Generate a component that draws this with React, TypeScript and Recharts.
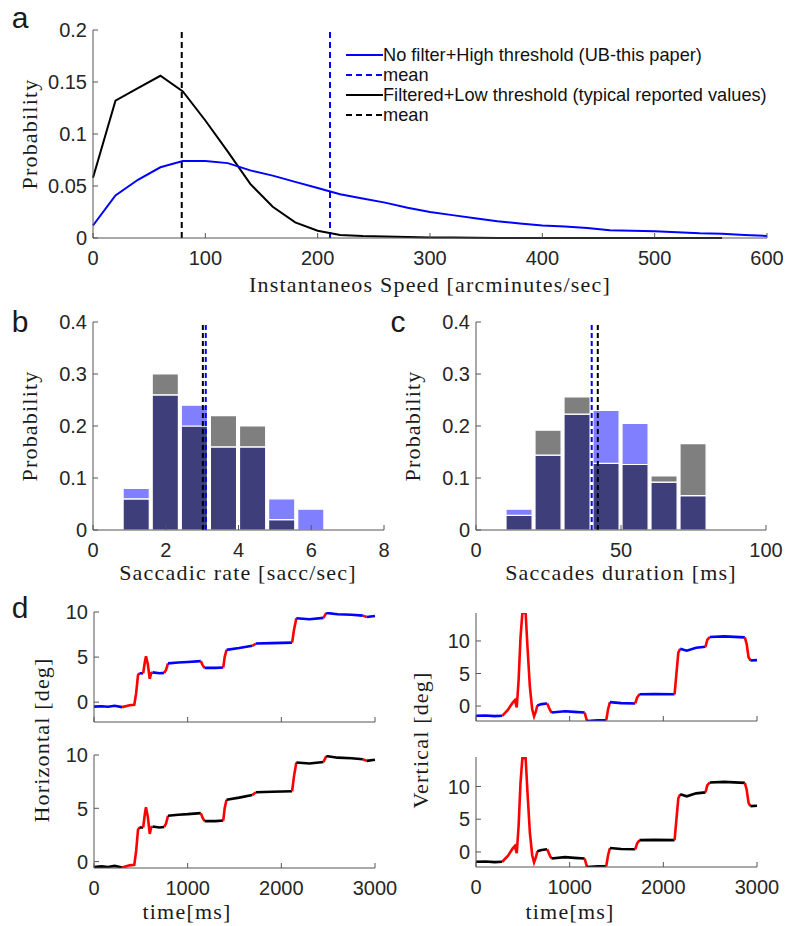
import React from 'react'
import { LineChart, Line, XAxis, YAxis, ReferenceLine, BarChart, Bar } from 'recharts'

// ---- panel a: instantaneous speed distributions
const SPEED_X = [0, 20, 40, 60, 80, 100, 120, 140, 160, 180, 200, 220, 240, 260, 280, 300, 320, 340, 360, 380, 400, 420, 440, 460, 480, 500, 520, 540, 560, 580, 600]
const SPEED_UB = [0.012, 0.041, 0.056, 0.068, 0.074, 0.074, 0.072, 0.065, 0.06, 0.054, 0.048, 0.042, 0.038, 0.034, 0.029, 0.025, 0.022, 0.019, 0.016, 0.014, 0.012, 0.011, 0.0095, 0.0075, 0.007, 0.0065, 0.0055, 0.0045, 0.004, 0.003, 0.002]
const SPEED_FILT = [0.058, 0.132, 0.144, 0.156, 0.141, 0.113, 0.083, 0.052, 0.03, 0.015, 0.007, 0.003, 0.002, 0.0015, 0.001, 0.0006, 0.0004, 0.0002, 0.0001, 0, 0, 0, 0, 0, 0, 0, 0, 0, 0, null, null]
const SPEED_MEAN_UB = 211
const SPEED_MEAN_FILT = 79
const SPEED_XTICKS = [0, 100, 200, 300, 400, 500, 600]
const PROB_TICKS_A = [0, 0.05, 0.1, 0.15, 0.2]

// ---- panel b: saccadic rate histogram (bins of 0.8 from 0 to 8)
const RATE_CENTERS = [0.4, 1.2, 2.0, 2.8, 3.6, 4.4, 5.2, 6.0, 6.8, 7.6]
const RATE_UB = [0, 0.08, 0.26, 0.24, 0.16, 0.16, 0.06, 0.04, 0, 0]
const RATE_FILT = [0, 0.06, 0.3, 0.2, 0.22, 0.2, 0.02, 0, 0, 0]
const RATE_MEAN_UB = 3.1
const RATE_MEAN_FILT = 3.02
const RATE_TICKS = [0, 2, 4, 6, 8]

// ---- panel c: saccade duration histogram (bins of 10 ms from 0 to 100)
const DUR_CENTERS = [5, 15, 25, 35, 45, 55, 65, 75, 85, 95]
const DUR_UB = [0, 0.04, 0.144, 0.223, 0.23, 0.205, 0.092, 0.066, 0, 0]
const DUR_FILT = [0, 0.028, 0.192, 0.256, 0.128, 0.126, 0.104, 0.166, 0, 0]
const DUR_MEAN_UB = 39.9
const DUR_MEAN_FILT = 42
const DUR_TICKS = [0, 50, 100]
const PROB_TICKS_BC = [0, 0.1, 0.2, 0.3, 0.4]

// ---- panel d: eye traces (1 = segment to next point is a saccade)
const H_T = [0, 80, 150, 220, 300, 380, 430, 450, 470, 485, 525, 545, 555, 575, 595, 610, 625, 700, 750, 770, 790, 900, 1000, 1140, 1160, 1180, 1300, 1380, 1395, 1415, 1550, 1690, 1730, 1900, 2115, 2135, 2160, 2300, 2450, 2480, 2600, 2750, 2870, 2910, 3000]
const H_V = [-0.5, -0.45, -0.5, -0.4, -0.55, -0.35, -0.3, 1.0, 3.0, 3.2, 3.2, 4.6, 5.1, 4.2, 2.6, 3.2, 3.3, 3.2, 3.25, 3.6, 4.3, 4.4, 4.45, 4.55, 4.1, 3.8, 3.8, 3.85, 5.0, 5.8, 6.0, 6.25, 6.5, 6.55, 6.6, 8.0, 9.3, 9.2, 9.35, 9.9, 9.75, 9.7, 9.6, 9.45, 9.55]
const H_SAC = [0, 0, 0, 0, 1, 1, 1, 1, 1, 0, 1, 1, 1, 1, 1, 1, 0, 0, 1, 1, 0, 0, 0, 1, 1, 0, 0, 1, 1, 0, 0, 1, 0, 0, 1, 1, 0, 0, 1, 0, 0, 0, 1, 0, 0]
const V_T = [0, 100, 200, 280, 340, 390, 415, 435, 455, 475, 495, 530, 550, 575, 600, 620, 640, 655, 700, 760, 790, 805, 950, 1050, 1160, 1185, 1300, 1390, 1410, 1430, 1550, 1700, 1720, 1745, 1900, 2120, 2140, 2160, 2180, 2250, 2350, 2450, 2470, 2495, 2650, 2870, 2890, 2910, 2930, 3000]
const V_V = [-1.5, -1.45, -1.55, -1.5, -0.6, 0.5, 0.9, -0.2, 4.0, 10.5, 14.3, 14.3, 9.0, 3.0, -0.5, -1.6, -0.8, 0.1, 0.3, 0.4, -0.6, -1.0, -0.8, -0.9, -1.0, -2.3, -2.2, -2.2, -0.5, 0.6, 0.45, 0.4, 1.3, 1.8, 1.85, 1.8, 5.0, 8.2, 8.8, 8.5, 8.95, 9.1, 10.2, 10.6, 10.7, 10.55, 9.5, 7.5, 7.0, 7.05]
const V_SAC = [0, 0, 0, 1, 1, 1, 1, 1, 1, 1, 1, 1, 1, 1, 1, 1, 1, 0, 0, 1, 1, 0, 0, 0, 1, 0, 0, 1, 1, 0, 0, 1, 1, 0, 0, 1, 1, 1, 0, 0, 0, 1, 1, 0, 0, 1, 1, 1, 0, 0]
const TIME_TICKS = [0, 1000, 2000, 3000]
const DEG_TICKS = [0, 5, 10]

const AXIS = '#555'
const TICK_TXT = '#262626'
const SANS = '"Liberation Sans", Arial, sans-serif'
const SERIF = '"Liberation Serif", "Times New Roman", serif'
const TM = 6
const TICK_FS = 20

function BottomTick(props: any) {
  const { x, y, payload, showLabel } = props
  const y0 = y - TM
  return (
    <g>
      <line x1={x} x2={x} y1={y0} y2={y0 - 5} stroke={AXIS} />
      {showLabel && (
        <text x={x} y={y0 + 27} textAnchor="middle" fontFamily={SANS} fontSize={TICK_FS} fill={TICK_TXT}>
          {payload.value}
        </text>
      )}
    </g>
  )
}

function LeftTick(props: any) {
  const { x, y, payload } = props
  const x0 = x + TM
  return (
    <g>
      <line x1={x0} x2={x0 + 5} y1={y} y2={y} stroke={AXIS} />
      <text x={x} y={y} dy="0.36em" textAnchor="end" fontFamily={SANS} fontSize={TICK_FS} fill={TICK_TXT}>
        {payload.value}
      </text>
    </g>
  )
}

type Rect = { l: number; t: number; w: number; h: number }
type Plot = { l: number; t: number; r: number; b: number }

function frame(d: Rect, p: Plot) {
  return {
    style: { position: 'absolute' as const, left: d.l, top: d.t },
    width: d.w,
    height: d.h,
    margin: { top: p.t - d.t, right: d.l + d.w - p.r, left: 0, bottom: 0 },
    yW: p.l - d.l,
    xH: d.t + d.h - p.b,
  }
}

function SpeedPanel() {
  const f = frame({ l: 0, t: 0, w: 786, h: 272 }, { l: 93, t: 30, r: 767, b: 238 })
  const rows = SPEED_X.map((x, i) => ({ x, ub: SPEED_UB[i], filt: SPEED_FILT[i] }))
  return (
    <div style={f.style}>
      <LineChart width={f.width} height={f.height} data={rows} margin={f.margin}>
        <XAxis type="number" dataKey="x" domain={[0, 600]} ticks={SPEED_XTICKS} height={f.xH} stroke={AXIS}
          tickSize={0} tickMargin={TM} tick={(p: any) => <BottomTick {...p} showLabel />} />
        <YAxis type="number" domain={[0, 0.2]} ticks={PROB_TICKS_A} width={f.yW} stroke={AXIS}
          tickSize={0} tickMargin={TM} tick={(p: any) => <LeftTick {...p} />} />
        <ReferenceLine x={SPEED_MEAN_FILT} stroke="#000" strokeWidth={2} strokeDasharray="6 4" />
        <ReferenceLine x={SPEED_MEAN_UB} stroke="#0000ff" strokeWidth={2} strokeDasharray="6 4" />
        <Line dataKey="filt" stroke="#000" strokeWidth={2} dot={false} isAnimationActive={false} />
        <Line dataKey="ub" stroke="#0000ff" strokeWidth={2} dot={false} isAnimationActive={false} />
      </LineChart>
    </div>
  )
}

function Hist(props: { d: Rect; p: Plot; centers: number[]; ub: number[]; filt: number[]; xMax: number; xTicks: number[]; meanUb: number; meanFilt: number }) {
  const f = frame(props.d, props.p)
  const rows = props.ub.map((u, i) => ({
    c: props.centers[i],
    dark: Math.min(u, props.filt[i]),
    blue: Math.max(u - props.filt[i], 0),
    gray: Math.max(props.filt[i] - u, 0),
  }))
  const barW = (props.p.r - props.p.l) / props.centers.length
  return (
    <div style={f.style}>
      <BarChart width={f.width} height={f.height} data={rows} margin={f.margin} barCategoryGap={0} barGap={0} barSize={barW}>
        <XAxis type="number" dataKey="c" domain={[0, props.xMax]} ticks={props.xTicks} allowDataOverflow height={f.xH}
          stroke={AXIS} tickSize={0} tickMargin={TM} tick={(p: any) => <BottomTick {...p} showLabel />} />
        <YAxis type="number" domain={[0, 0.4]} ticks={PROB_TICKS_BC} width={f.yW} stroke={AXIS}
          tickSize={0} tickMargin={TM} tick={(p: any) => <LeftTick {...p} />} />
        <Bar dataKey="dark" stackId="h" fill="#3e3e7a" stroke="#fff" strokeWidth={1.2} isAnimationActive={false} />
        <Bar dataKey="blue" stackId="h" fill="#8080ff" stroke="#fff" strokeWidth={1.2} isAnimationActive={false} />
        <Bar dataKey="gray" stackId="h" fill="#7f7f7f" stroke="#fff" strokeWidth={1.2} isAnimationActive={false} />
        <ReferenceLine x={props.meanFilt} stroke="#000" strokeWidth={2} strokeDasharray="5 3" />
        <ReferenceLine x={props.meanUb} stroke="#0000ff" strokeWidth={2} strokeDasharray="5 3" />
      </BarChart>
    </div>
  )
}

function toRuns(ts: number[], vs: number[], sac: number[]) {
  const out: { sac: number; pts: { t: number; v: number }[] }[] = []
  let cur = { sac: sac[0], pts: [{ t: ts[0], v: vs[0] }] }
  for (let i = 1; i < ts.length; i++) {
    cur.pts.push({ t: ts[i], v: vs[i] })
    if (i < ts.length - 1 && sac[i] !== cur.sac) {
      out.push(cur)
      cur = { sac: sac[i], pts: [{ t: ts[i], v: vs[i] }] }
    }
  }
  out.push(cur)
  return out
}

function Trace(props: { d: Rect; p: Plot; ts: number[]; vs: number[]; sac: number[]; fixColor: string; domain: number[]; showX: boolean }) {
  const f = frame(props.d, props.p)
  const runs = toRuns(props.ts, props.vs, props.sac)
  return (
    <div style={f.style}>
      <LineChart width={f.width} height={f.height} margin={f.margin}>
        <XAxis type="number" dataKey="t" domain={[0, 3000]} ticks={TIME_TICKS} height={f.xH} stroke={AXIS}
          tickSize={0} tickMargin={TM} tick={(p: any) => <BottomTick {...p} showLabel={props.showX} />} />
        <YAxis type="number" domain={props.domain} ticks={DEG_TICKS} allowDataOverflow width={f.yW} stroke={AXIS}
          tickSize={0} tickMargin={TM} tick={(p: any) => <LeftTick {...p} />} />
        {runs.map((r, i) => (
          <Line key={i} data={r.pts} dataKey="v" stroke={r.sac ? '#ff0000' : props.fixColor} strokeWidth={2.6}
            dot={false} isAnimationActive={false} />
        ))}
      </LineChart>
    </div>
  )
}

function Label(props: { x: number; y: number; text: string; rotate?: boolean; size?: number; font?: string; ls?: number }) {
  return (
    <div style={{
      position: 'absolute', left: props.x, top: props.y, whiteSpace: 'nowrap',
      transform: `translate(-50%, -50%)${props.rotate ? ' rotate(-90deg)' : ''}`,
      fontFamily: props.font || SERIF, fontSize: props.size || 22, color: '#1a1a1a', lineHeight: 1,
      letterSpacing: props.ls ?? (props.font ? 0 : 1.2),
    }}>{props.text}</div>
  )
}

const LEGEND = [
  { text: 'No filter+High threshold (UB-this paper)', color: '#0000ff', dash: '' },
  { text: 'mean', color: '#0000ff', dash: '6 4' },
  { text: 'Filtered+Low threshold (typical reported values)', color: '#000', dash: '' },
  { text: 'mean', color: '#000', dash: '6 4' },
]

function SpeedLegend() {
  return (
    <div style={{ position: 'absolute', left: 346, top: 45 }}>
      {LEGEND.map((e, i) => (
        <div key={i} style={{ display: 'flex', alignItems: 'center', height: 20 }}>
          <svg width={37} height={10}>
            <line x1={0} x2={37} y1={5} y2={5} stroke={e.color} strokeWidth={2} strokeDasharray={e.dash || undefined} />
          </svg>
          <span style={{ fontFamily: SANS, fontSize: 18.2, color: '#111', marginLeft: 0, lineHeight: 1 }}>{e.text}</span>
        </div>
      ))}
    </div>
  )
}

export default function App() {
  return (
    <div style={{ position: 'absolute', left: 0, top: 0, width: 786, height: 926, background: '#fff', overflow: 'hidden' }}>
      <SpeedPanel />
      <SpeedLegend />
      <Hist d={{ l: 0, t: 300, w: 392, h: 262 }} p={{ l: 93, t: 322, r: 384, b: 530 }} centers={RATE_CENTERS} ub={RATE_UB} filt={RATE_FILT}
        xMax={8} xTicks={RATE_TICKS} meanUb={RATE_MEAN_UB} meanFilt={RATE_MEAN_FILT} />
      <Hist d={{ l: 392, t: 300, w: 394, h: 262 }} p={{ l: 476, t: 322, r: 766, b: 530 }} centers={DUR_CENTERS} ub={DUR_UB} filt={DUR_FILT}
        xMax={100} xTicks={DUR_TICKS} meanUb={DUR_MEAN_UB} meanFilt={DUR_MEAN_FILT} />
      <Trace d={{ l: 0, t: 595, w: 402, h: 140 }} p={{ l: 94, t: 612, r: 375, b: 722 }} ts={H_T} vs={H_V} sac={H_SAC}
        fixColor="#0000ff" domain={[-2.2, 10]} showX={false} />
      <Trace d={{ l: 0, t: 740, w: 402, h: 160 }} p={{ l: 94, t: 755, r: 375, b: 868 }} ts={H_T} vs={H_V} sac={H_SAC}
        fixColor="#000" domain={[-0.6, 10]} showX />
      <Trace d={{ l: 404, t: 595, w: 382, h: 140 }} p={{ l: 476, t: 613, r: 757, b: 721 }} ts={V_T} vs={V_V} sac={V_SAC}
        fixColor="#0000ff" domain={[-2.3, 14.3]} showX={false} />
      <Trace d={{ l: 404, t: 740, w: 382, h: 160 }} p={{ l: 476, t: 757, r: 757, b: 867 }} ts={V_T} vs={V_V} sac={V_SAC}
        fixColor="#000" domain={[-2.3, 14.5]} showX />

      <Label x={430} y={285} text="Instantaneos Speed [arcminutes/sec]" />
      <Label x={30} y={134} text="Probability" rotate />
      <Label x={30} y={426} text="Probability" rotate />
      <Label x={413} y={426} text="Probability" rotate />
      <Label x={238} y={573} text="Saccadic rate [sacc/sec]" />
      <Label x={621} y={573} text="Saccades duration [ms]" />
      <Label x={42} y={740} text="Horizontal [deg]" rotate />
      <Label x={421} y={740} text="Vertical [deg]" rotate />
      <Label x={187} y={912} text="time[ms]" />
      <Label x={570} y={912} text="time[ms]" />

      <Label x={20} y={18} text="a" font={SANS} size={30} />
      <Label x={20} y={322} text="b" font={SANS} size={30} />
      <Label x={398} y={322} text="c" font={SANS} size={30} />
      <Label x={20} y={608} text="d" font={SANS} size={30} />
    </div>
  )
}
